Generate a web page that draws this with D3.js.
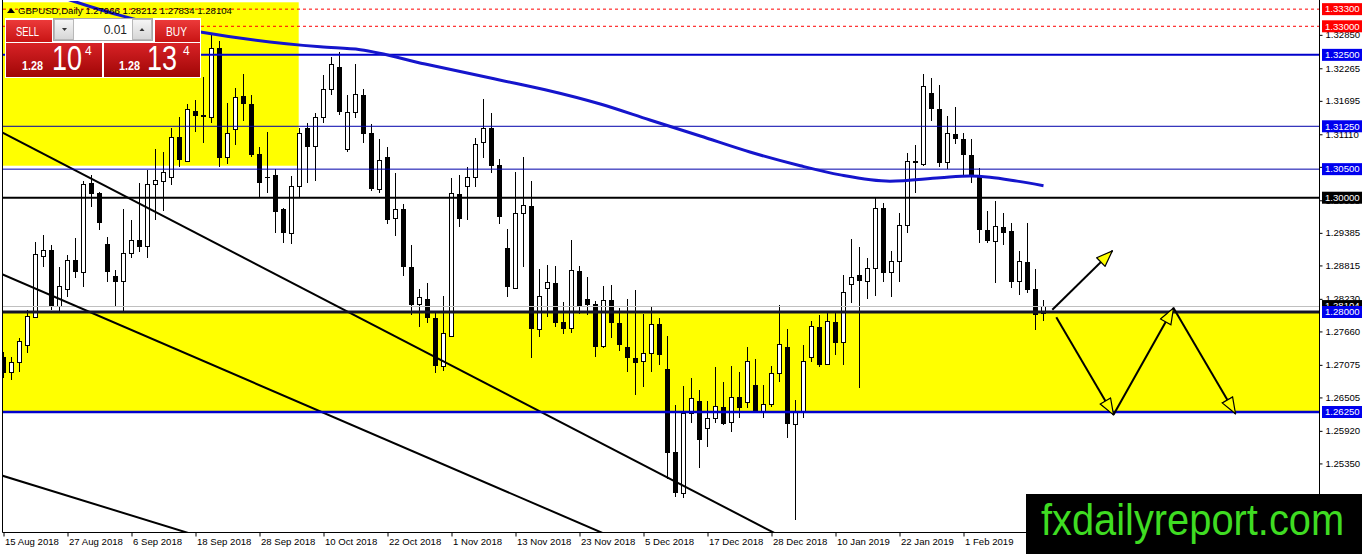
<!DOCTYPE html>
<html>
<head>
<meta charset="utf-8">
<script src="https://cdn.jsdelivr.net/npm/d3@7/dist/d3.min.js"></script>
<style>
  body { margin: 0; background: #fff; overflow: hidden; }
  svg { display: block; font-family: "Liberation Sans", Arial, sans-serif; }
</style>
</head>
<body>
<svg id="chart" width="1362" height="554"></svg>
<script>
// GBPUSD daily candles, one entry per bar (index 0 = 15 Aug 2018)
var opens = [1.2721,1.2695,1.2711,1.2741,1.2791,1.2898,1.2909,1.2809,1.2840,1.2891,
  1.2870,1.3026,1.3008,1.2919,1.2863,1.2853,1.2903,1.2926,1.2914,1.3024,
  1.3029,1.3036,1.3106,1.3064,1.3152,1.3145,1.3140,1.3262,1.3071,1.3119,
  1.3178,1.3164,1.3077,1.3036,1.3040,1.2980,1.2938,1.3019,1.3122,1.3089,
  1.3141,1.3190,1.3229,1.3084,1.3150,1.3180,1.3113,1.3015,1.3071,1.2963,
  1.2980,1.2879,1.2814,1.2823,1.2790,1.2704,1.2758,1.3007,1.3019,1.3036,
  1.3096,1.3122,1.3057,1.2912,1.2842,1.2973,1.2986,1.2770,1.2842,1.2851,
  1.2783,1.2772,1.2872,1.2823,1.2814,1.2739,1.2821,1.2781,1.2739,1.2720,
  1.2713,1.2728,1.2779,1.2700,1.2555,1.2483,1.2623,1.2644,1.2597,1.2613,
  1.2634,1.2606,1.2651,1.2641,1.2672,1.2625,1.2639,1.2693,1.2739,1.2604,
  1.2625,1.2721,1.2774,1.2709,1.2783,1.2746,1.2849,1.2865,1.2854,1.2877,
  1.2982,1.2870,1.2888,1.2952,1.3064,1.3059,1.3183,1.3155,1.3061,1.3112,
  1.3103,1.3075,1.3038,1.2944,1.2924,1.2949,1.2942,1.2853,1.2888,1.2840,
  1.27966];
var highs = [1.2730,1.2721,1.2755,1.2804,1.2923,1.2935,1.2917,1.2879,1.2900,1.2930,
  1.3029,1.3040,1.3010,1.2931,1.2874,1.2980,1.2961,1.3026,1.3049,1.3085,
  1.3080,1.3122,1.3141,1.3164,1.3171,1.3211,1.3288,1.3274,1.3166,1.3192,
  1.3217,1.3180,1.3089,1.3115,1.3050,1.2982,1.3038,1.3122,1.3131,1.3148,
  1.3215,1.3246,1.3255,1.3180,1.3234,1.3190,1.3129,1.3103,1.3089,1.3043,
  1.2989,1.2917,1.2840,1.2851,1.2798,1.2828,1.3035,1.3040,1.3054,1.3105,
  1.3173,1.3148,1.3068,1.2945,1.3045,1.3071,1.3029,1.2875,1.2882,1.2880,
  1.2818,1.2926,1.2880,1.2861,1.2819,1.2846,1.2847,1.2807,1.2823,1.2839,
  1.2797,1.2811,1.2790,1.2758,1.2637,1.2671,1.2685,1.2664,1.2644,1.2704,
  1.2678,1.2706,1.2695,1.2739,1.2718,1.2672,1.2706,1.2812,1.2770,1.2646,
  1.2742,1.2784,1.2795,1.2798,1.2800,1.2865,1.2928,1.2914,1.2895,1.3000,
  1.2991,1.2907,1.2973,1.3078,1.3092,1.3217,1.3210,1.3197,1.3143,1.3159,
  1.3113,1.3103,1.3052,1.2977,1.2994,1.2973,1.2956,1.2907,1.2956,1.2875,
  1.28212];
var lows = [1.2685,1.2681,1.2695,1.2728,1.2789,1.2879,1.2804,1.2798,1.2826,1.2860,
  1.2844,1.2984,1.2944,1.2853,1.2809,1.2800,1.2895,1.2905,1.2895,1.2961,
  1.2977,1.3022,1.3054,1.3062,1.3115,1.3096,1.3131,1.3054,1.3059,1.3092,
  1.3134,1.3071,1.3001,1.3008,1.2938,1.2921,1.2919,1.3001,1.3026,1.3029,
  1.3131,1.3180,1.3145,1.3080,1.3140,1.3096,1.3012,1.3008,1.2954,1.2933,
  1.2863,1.2795,1.2774,1.2781,1.2693,1.2697,1.2756,1.2949,1.2961,1.3019,
  1.3070,1.3043,1.2954,1.2826,1.2840,1.2879,1.2720,1.2756,1.2791,1.2774,
  1.2762,1.2763,1.2797,1.2795,1.2721,1.2737,1.2755,1.2732,1.2695,1.2655,
  1.2669,1.2695,1.2707,1.2508,1.2476,1.2474,1.2606,1.2527,1.2564,1.2606,
  1.2602,1.2590,1.2615,1.2632,1.2623,1.2615,1.2634,1.2678,1.2580,1.2436,
  1.2615,1.2713,1.2704,1.2707,1.2725,1.2707,1.2816,1.2667,1.2823,1.2828,
  1.2853,1.2826,1.2853,1.2938,1.3008,1.3056,1.3134,1.3054,1.3050,1.3094,
  1.3040,1.3026,1.2921,1.2921,1.2851,1.2917,1.2842,1.2830,1.2833,1.2769,
  1.27834];
var closes = [1.2693,1.2711,1.2748,1.2793,1.2900,1.2907,1.2809,1.2844,1.2891,1.2870,
  1.3024,1.3007,1.2956,1.2870,1.2853,1.2903,1.2926,1.2914,1.3024,1.3031,
  1.3045,1.3106,1.3066,1.3155,1.3143,1.3141,1.3262,1.3070,1.3113,1.3176,
  1.3164,1.3075,1.3026,1.3035,1.2975,1.2938,1.3019,1.3112,1.3089,1.3141,
  1.3190,1.3234,1.3150,1.3150,1.3180,1.3112,1.3015,1.3066,1.2961,1.2980,
  1.2879,1.2812,1.2826,1.2790,1.2706,1.2762,1.3007,1.2963,1.3036,1.3094,
  1.3122,1.3056,1.2966,1.2844,1.2973,1.2986,1.2770,1.2828,1.2851,1.2781,
  1.2770,1.2872,1.2809,1.2812,1.2739,1.2821,1.2781,1.2742,1.2720,1.2711,
  1.2728,1.2779,1.2725,1.2553,1.2483,1.2623,1.2648,1.2576,1.2613,1.2634,
  1.2604,1.2651,1.2632,1.2714,1.2625,1.2639,1.2693,1.2744,1.2604,1.2625,
  1.2714,1.2774,1.2707,1.2783,1.2746,1.2835,1.2861,1.2854,1.2877,1.2982,
  1.2868,1.2888,1.2952,1.3064,1.3061,1.3194,1.3155,1.3061,1.3112,1.3103,
  1.3075,1.3038,1.2944,1.2924,1.2949,1.2938,1.2853,1.2888,1.2839,1.2795,
  1.28104];

// moving average, read at a few bars
var maIdx = [6, 8.3, 15.4, 24.6, 39.6, 44.6, 52.7, 62, 67.7, 74.6, 80.8, 87.1, 93.3,
  99.6, 104.6, 110.8, 117.1, 120.8, 123.3, 126.7, 130];
var maVal = [1.3357, 1.3346, 1.3316, 1.3290, 1.3264, 1.3259, 1.3234, 1.3206, 1.3189,
  1.3164, 1.3136, 1.3108, 1.3080, 1.3056, 1.3040, 1.3029, 1.3035, 1.3038, 1.3036,
  1.3029, 1.3021];

// time axis
var dateIdx = [0, 8, 16, 24, 32, 40, 48, 56, 64, 72, 80, 88, 96, 104, 112, 120];
var dateLabels = ["15 Aug 2018", "27 Aug 2018", "6 Sep 2018", "18 Sep 2018",
  "28 Sep 2018", "10 Oct 2018", "22 Oct 2018", "1 Nov 2018", "13 Nov 2018",
  "23 Nov 2018", "5 Dec 2018", "17 Dec 2018", "28 Dec 2018", "10 Jan 2019",
  "22 Jan 2019", "1 Feb 2019"];

// price axis
var priceTicks = [1.32850, 1.32265, 1.31695, 1.31110, 1.30540, 1.29955, 1.29385,
  1.28815, 1.28230, 1.27660, 1.27075, 1.26505, 1.25920, 1.25350, 1.24780];

// horizontal levels drawn on the chart
var levelPrices = [1.3330, 1.3300, 1.3250, 1.3125, 1.3050, 1.3000, 1.2800, 1.2625];

// drawn objects: [barIndex, price] pairs
var trendLines = [
  [[0, 1.3113], [94.2, 1.2429]],
  [[0, 1.2865], [74.6, 1.2415]],
  [[0, 1.2513], [22.7, 1.2415]]
];
var arrowPaths = [
  [[131.1, 1.2804], [138.6, 1.2907]],
  [[131.6, 1.2791], [138.75, 1.2620]],
  [[138.75, 1.2620], [146.25, 1.2807]],
  [[146.25, 1.2807], [154, 1.2622]]
];
var boxTopLeft = [[-0.5, 1.3342], [36.9, 1.3056]];
var boxBand = [[-0.5, 1.2800], [164.5, 1.2625]];

// ---------- styles ----------
var levelStyle = [
  {stroke: "#ff0000", w: 1, dash: "3,3", bg: "#ff0000"},
  {stroke: "#ff0000", w: 1, dash: "3,3", bg: "#ff0000"},
  {stroke: "#0000cc", w: 2, dash: null, bg: "#0000ee"},
  {stroke: "#0000aa", w: 1, dash: null, bg: "#0000ee"},
  {stroke: "#0000aa", w: 1, dash: null, bg: "#0000ee"},
  {stroke: "#000000", w: 2, dash: null, bg: "#000000"},
  {stroke: "#141428", w: 3, dash: null, bg: "#0000ee"},
  {stroke: "#0000cc", w: 2.5, dash: null, bg: "#0000ee"}
];

var svg = d3.select("#chart"),
    plotL = 3, plotR = 1319, plotT = 1, plotB = 532;

var x = d3.scaleLinear().domain([0, 164.5]).range([3.5, 3.5 + 8 * 164.5]);
var y = d3.scaleLinear().domain([1.2415, 1.33425]).range([plotB, 2]);

var defs = svg.append("defs");
defs.append("clipPath").attr("id", "plotClip")
  .append("rect").attr("x", plotL).attr("y", plotT)
  .attr("width", plotR - plotL).attr("height", plotB - plotT);

defs.append("marker")
  .attr("id", "head")
  .attr("markerUnits", "userSpaceOnUse")
  .attr("viewBox", "0 0 18 14")
  .attr("markerWidth", 18).attr("markerHeight", 14)
  .attr("refX", 17).attr("refY", 7)
  .attr("orient", "auto")
  .append("path")
  .attr("d", "M1,1 L17,7 L1,13 Z")
  .attr("fill", "#ffff00").attr("stroke", "#000").attr("stroke-width", 1.2);

function grad(id, c0, c1) {
  var g = defs.append("linearGradient").attr("id", id)
    .attr("x1", 0).attr("y1", 0).attr("x2", 0).attr("y2", 1);
  g.append("stop").attr("offset", "0%").attr("stop-color", c0);
  g.append("stop").attr("offset", "100%").attr("stop-color", c1);
}
grad("redTop", "#ec3a3a", "#c81414");
grad("redLow", "#d82226", "#a00606");
grad("grayBtn", "#f6f6f6", "#d6d6d6");

var plot = svg.append("g").attr("clip-path", "url(#plotClip)");

// yellow rectangles (background objects)
[boxTopLeft, boxBand].forEach(function (b) {
  plot.append("rect")
    .attr("x", x(b[0][0])).attr("y", y(b[0][1]))
    .attr("width", x(b[1][0]) - x(b[0][0]))
    .attr("height", y(b[1][1]) - y(b[0][1]))
    .attr("fill", "#ffff00");
});

// candles
var bars = d3.range(closes.length).map(function (i) {
  return {i: i, o: opens[i], h: highs[i], l: lows[i], c: closes[i]};
});
var candle = plot.append("g").attr("shape-rendering", "crispEdges")
  .selectAll("g").data(bars).enter().append("g");

candle.append("line")
  .attr("x1", d => x(d.i)).attr("x2", d => x(d.i))
  .attr("y1", d => y(d.h)).attr("y2", d => y(d.l))
  .attr("stroke", "#000").attr("stroke-width", 1);

candle.append("rect")
  .attr("x", d => d.c >= d.o ? x(d.i) - 2 : x(d.i) - 2.5)
  .attr("width", d => d.c >= d.o ? 4 : 5)
  .attr("y", d => y(Math.max(d.o, d.c)))
  .attr("height", d => Math.max(1, Math.abs(y(d.o) - y(d.c))))
  .attr("fill", d => d.c >= d.o ? "#fff" : "#000")
  .attr("stroke", "#000")
  .attr("stroke-width", d => d.c >= d.o ? 1 : 0);

// bid line
var last = bars[bars.length - 1];
plot.append("line")
  .attr("x1", plotL).attr("x2", plotR)
  .attr("y1", Math.round(y(last.c)) + 0.5).attr("y2", Math.round(y(last.c)) + 0.5)
  .attr("stroke", "#c0c0c0").attr("stroke-width", 1);

// trend lines
var line = d3.line().x(d => x(d[0])).y(d => y(d[1]));
trendLines.forEach(function (t) {
  var k = (t[1][1] - t[0][1]) / (t[1][0] - t[0][0]);
  var ext = [[t[0][0] - 2, t[0][1] - 2 * k], [t[1][0] + 20, t[1][1] + 20 * k]];
  plot.append("path").attr("d", line(ext))
    .attr("fill", "none").attr("stroke", "#000").attr("stroke-width", 2);
});

// horizontal levels
levelPrices.forEach(function (p, k) {
  var s = levelStyle[k];
  plot.append("line")
    .attr("x1", plotL).attr("x2", plotR)
    .attr("y1", y(p)).attr("y2", y(p))
    .attr("stroke", s.stroke).attr("stroke-width", s.w)
    .attr("stroke-dasharray", s.dash);
});

// moving average
var maPts = maIdx.map((d, k) => [d, maVal[k]]);
plot.append("path")
  .attr("d", d3.line().x(d => x(d[0])).y(d => y(d[1])).curve(d3.curveMonotoneX)(maPts))
  .attr("fill", "none").attr("stroke", "#1515cc").attr("stroke-width", 3);

// arrows
arrowPaths.forEach(function (a) {
  plot.append("path").attr("d", line(a))
    .attr("fill", "none").attr("stroke", "#000").attr("stroke-width", 2)
    .attr("marker-end", "url(#head)");
});

// frame
svg.append("line").attr("x1", 2.5).attr("x2", 2.5).attr("y1", 0).attr("y2", plotB + 0.5)
  .attr("stroke", "#000");
svg.append("line").attr("x1", plotR + 0.5).attr("x2", plotR + 0.5).attr("y1", 0).attr("y2", 554)
  .attr("stroke", "#000");
svg.append("line").attr("x1", 2.5).attr("x2", plotR + 0.5).attr("y1", plotB + 0.5).attr("y2", plotB + 0.5)
  .attr("stroke", "#000");

// bottom axis
var xAxis = svg.append("g")
  .attr("transform", "translate(0," + (plotB + 0.5) + ")")
  .call(d3.axisBottom(x).tickValues(dateIdx).tickSize(4)
    .tickFormat((d, k) => dateLabels[k]));
xAxis.select(".domain").remove();
xAxis.attr("font-family", null).attr("font-size", 9.6);
xAxis.selectAll("text").attr("text-anchor", "start").attr("x", 1).attr("y", 6).attr("fill", "#000");

// right axis
var yAxis = svg.append("g")
  .attr("transform", "translate(" + (plotR + 0.5) + ",0)")
  .call(d3.axisRight(y).tickValues(priceTicks).tickSize(3).tickFormat(d3.format(".5f")));
yAxis.select(".domain").remove();
yAxis.attr("font-family", null).attr("font-size", 9.6);
yAxis.selectAll("text").attr("x", 6).attr("fill", "#000");

// price labels on the axis
function priceTag(p, bg) {
  var yy = y(p);
  svg.append("rect").attr("x", plotR + 3).attr("y", yy - 6)
    .attr("width", 1362 - plotR - 3).attr("height", 12).attr("fill", bg);
  svg.append("text").attr("x", plotR + 6).attr("y", yy).attr("dy", "0.34em")
    .attr("font-size", 9.6).attr("fill", "#fff").text(d3.format(".5f")(p));
}
priceTag(last.c, "#000");
levelPrices.forEach((p, k) => priceTag(p, levelStyle[k].bg));

// header
svg.append("path").attr("d", "M7,13 L11,8 L15,13 Z").attr("fill", "#000");
svg.append("text").attr("x", 18).attr("y", 14).attr("font-size", 9.6).attr("fill", "#000")
  .text("GBPUSD,Daily " + [last.o, last.h, last.l, last.c].map(d3.format(".5f")).join(" "));

// one-click trading panel
var panel = svg.append("g");
panel.append("rect").attr("x", 5).attr("y", 18).attr("width", 196).attr("height", 60).attr("fill", "#fff");
panel.append("rect").attr("x", 6).attr("y", 20).attr("width", 46).attr("height", 22).attr("fill", "url(#redTop)");
panel.append("rect").attr("x", 155).attr("y", 20).attr("width", 45).attr("height", 22).attr("fill", "url(#redTop)");
panel.append("rect").attr("x", 6).attr("y", 43).attr("width", 96).attr("height", 34).attr("fill", "url(#redLow)");
panel.append("rect").attr("x", 104).attr("y", 43).attr("width", 96).attr("height", 34).attr("fill", "url(#redLow)");
panel.append("rect").attr("x", 53.5).attr("y", 18.5).attr("width", 99).attr("height", 22)
  .attr("fill", "#fff").attr("stroke", "#a8a8a8");
panel.append("rect").attr("x", 54.5).attr("y", 19.5).attr("width", 19).attr("height", 20)
  .attr("fill", "url(#grayBtn)").attr("stroke", "#b8b8b8");
panel.append("rect").attr("x", 132.5).attr("y", 19.5).attr("width", 19).attr("height", 20)
  .attr("fill", "url(#grayBtn)").attr("stroke", "#b8b8b8");
panel.append("path").attr("d", "M62,28 L67,28 L64.5,31 Z").attr("fill", "#333");
panel.append("path").attr("d", "M139.5,31 L144.5,31 L142,28 Z").attr("fill", "#333");
panel.append("text").attr("x", 127).attr("y", 34).attr("text-anchor", "end")
  .attr("font-size", 12).attr("fill", "#222").text("0.01");
panel.append("text").attr("x", 16).attr("y", 36).attr("font-size", 13)
  .attr("textLength", 23).attr("lengthAdjust", "spacingAndGlyphs").attr("fill", "#fff").text("SELL");
panel.append("text").attr("x", 166).attr("y", 36).attr("font-size", 13)
  .attr("textLength", 21).attr("lengthAdjust", "spacingAndGlyphs").attr("fill", "#fff").text("BUY");
[[22, 52, 85, "10"], [119, 147, 183, "13"]].forEach(function (q) {
  panel.append("text").attr("x", q[0]).attr("y", 70).attr("font-size", 12).attr("font-weight", "bold")
    .attr("textLength", 21).attr("lengthAdjust", "spacingAndGlyphs").attr("fill", "#fff").text("1.28");
  panel.append("text").attr("x", q[1]).attr("y", 70).attr("font-size", 35)
    .attr("textLength", 30).attr("lengthAdjust", "spacingAndGlyphs").attr("fill", "#fff").text(q[3]);
  panel.append("text").attr("x", q[2]).attr("y", 55).attr("font-size", 12)
    .attr("fill", "#fff").text("4");
});

// watermark
svg.append("rect").attr("x", 1026).attr("y", 494).attr("width", 336).attr("height", 60).attr("fill", "#000");
svg.append("text").attr("transform", "translate(1041,535) scale(0.905,1)")
  .attr("font-size", 44).attr("fill", "#3fdc22").text("fxdailyreport.com");
</script>
</body>
</html>
